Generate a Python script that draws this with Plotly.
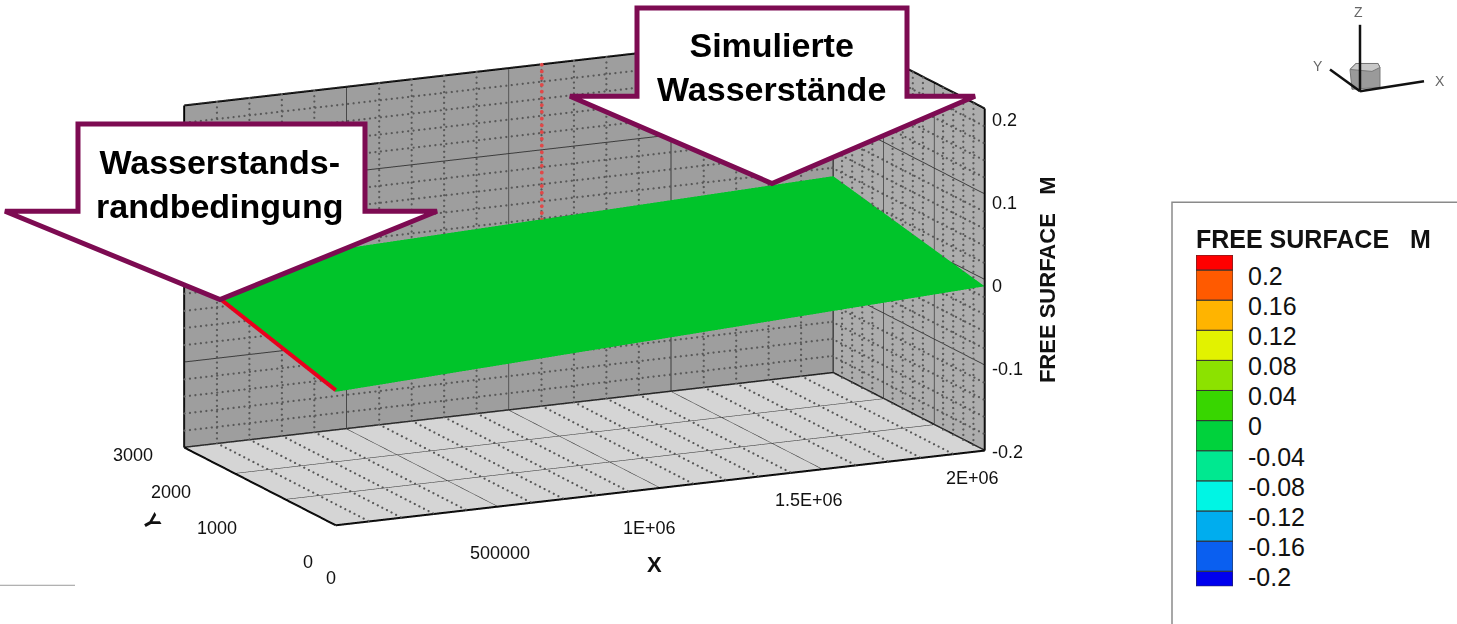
import numpy as np
import plotly.graph_objects as go

W, H = 1457, 624

# ---------------- data ----------------
x_nodes = [0, 2000000]
y_nodes = [0, 3000]
# free surface [m]; rows = y nodes, columns = x nodes
free_surface = [[-0.044, -0.008],
                [0.005, 0.030]]
station_x = 1100000          # red dotted marker on the back wall

x_ticks = [0, 500000, 1000000, 1500000, 2000000]
x_ticklabels = ["0", "500000", "1E+06", "1.5E+06", "2E+06"]
y_ticks = [0, 1000, 2000, 3000]
y_ticklabels = ["0", "1000", "2000", "3000"]
z_ticks = [-0.2, -0.1, 0.0, 0.1, 0.2]
z_ticklabels = ["-0.2", "-0.1", "0", "0.1", "0.2"]

legend_levels = [-0.2, -0.16, -0.12, -0.08, -0.04, 0.0, 0.04, 0.08, 0.12, 0.16, 0.2]
legend_labels = ["-0.2", "-0.16", "-0.12", "-0.08", "-0.04", "0",
                 "0.04", "0.08", "0.12", "0.16", "0.2"]
legend_colors = ["#0000ee", "#0a5ff0", "#00adee", "#00f5e4", "#00e890", "#00d23c",
                 "#38d600", "#8ce200", "#e2f200", "#ffb400", "#ff5a00", "#ff0000"]

# ---------------- helpers ----------------
def px(x):
    return x / W

def py(y):
    return 1 - y / H

def minor_values(ticks, n):
    out = []
    for a, b in zip(ticks[:-1], ticks[1:]):
        step = (b - a) / n
        out += [a + k * step for k in range(1, n)]
    return out

xmin, xmax = x_ticks[0], x_ticks[-1]
ymin, ymax = y_ticks[0], y_ticks[-1]
zmin, zmax = z_ticks[0], z_ticks[-1]

x_minor = minor_values(x_ticks, 5)
y_minor = minor_values(y_ticks, 5)
z_minor = minor_values(z_ticks, 5)

# small inset so the dotted lines sit just in front of the walls
ex = (xmax - xmin) * 0.002
ey = (ymax - ymin) * 0.002
ez = (zmax - zmin) * 0.002

# dotted minor grid: dots along each minor grid line
N_ALONG_X, N_ALONG_Y, N_ALONG_Z = 120, 34, 64
dx_, dy_, dz_ = [], [], []
def dots(p, q, n):
    t = np.linspace(0, 1, n)
    dx_.extend(p[0] + (q[0] - p[0]) * t)
    dy_.extend(p[1] + (q[1] - p[1]) * t)
    dz_.extend(p[2] + (q[2] - p[2]) * t)

# back wall (y = ymax)
for v in x_minor:
    dots((v, ymax - ey, zmin), (v, ymax - ey, zmax), N_ALONG_Z)
for v in z_minor:
    dots((xmin, ymax - ey, v), (xmax, ymax - ey, v), N_ALONG_X)
# right wall (x = xmax)
for v in y_minor:
    dots((xmax - ex, v, zmin), (xmax - ex, v, zmax), N_ALONG_Z)
for v in z_minor:
    dots((xmax - ex, ymin, v), (xmax - ex, ymax, v), N_ALONG_Y)
# floor (z = zmin)
for v in x_minor:
    dots((v, ymin, zmin + ez), (v, ymax, zmin + ez), N_ALONG_Y)

# box outline edges
bx, by, bz = [], [], []
def edge(p, q):
    bx.extend([p[0], q[0], None]); by.extend([p[1], q[1], None]); bz.extend([p[2], q[2], None])
edge((xmin, ymin, zmin), (xmax, ymin, zmin))
edge((xmin, ymin, zmin), (xmin, ymax, zmin))
edge((xmin, ymax, zmin), (xmax, ymax, zmin))
edge((xmax, ymin, zmin), (xmax, ymax, zmin))
edge((xmin, ymax, zmin), (xmin, ymax, zmax))
edge((xmax, ymax, zmin), (xmax, ymax, zmax))
edge((xmax, ymin, zmin), (xmax, ymin, zmax))
edge((xmin, ymax, zmax), (xmax, ymax, zmax))
edge((xmax, ymin, zmax), (xmax, ymax, zmax))

GREEN = "#00c42a"
fs = np.array(free_surface)

fig = go.Figure()

fig.add_trace(go.Surface(
    x=x_nodes, y=y_nodes, z=free_surface,
    colorscale=[[0, GREEN], [1, GREEN]], showscale=False,
    lighting=dict(ambient=1.0, diffuse=0.0, specular=0.0, roughness=1.0, fresnel=0.0),
    hoverinfo="skip"))

fig.add_trace(go.Scatter3d(
    x=dx_, y=dy_, z=dz_, mode="markers",
    marker=dict(color="#585858", size=1.3, line=dict(width=0)),
    hoverinfo="skip", showlegend=False))

fig.add_trace(go.Scatter3d(
    x=bx, y=by, z=bz, mode="lines",
    line=dict(color="#000000", width=4),
    hoverinfo="skip", showlegend=False))

# boundary condition line at x = 0 (red)
fig.add_trace(go.Scatter3d(
    x=[x_nodes[0]] * len(y_nodes), y=y_nodes, z=list(fs[:, 0] + 0.002),
    mode="lines", line=dict(color="#e8001c", width=8),
    hoverinfo="skip", showlegend=False))

# red dotted station marker on back wall
z_station = float(np.interp(station_x, x_nodes, fs[-1, :]))
n_st = 24
fig.add_trace(go.Scatter3d(
    x=[station_x] * n_st, y=[ymax - 2 * ey] * n_st, z=list(np.linspace(z_station, zmax, n_st)),
    mode="markers", marker=dict(color="#e04848", size=2.2, line=dict(width=0)),
    hoverinfo="skip", showlegend=False))

# legend swatch (bars in a small cartesian panel)
edges = [legend_levels[0] - 0.02] + legend_levels + [legend_levels[-1] + 0.02]
fig.add_trace(go.Bar(
    x=[0] * len(legend_colors), base=edges[:-1],
    y=[b - a for a, b in zip(edges[:-1], edges[1:])],
    width=1, marker=dict(color=legend_colors, line=dict(color="#333333", width=1)),
    hoverinfo="skip", showlegend=False, xaxis="x", yaxis="y"))

# ---------------- 3D scene ----------------
tick_font = dict(family="Liberation Sans, Arial, sans-serif", size=18, color="#111111")
title_font = dict(family="Liberation Sans, Arial, sans-serif", size=22, color="#111111")

# label offsets (pixels) for the tick labels of each axis
x_dx = [-5, 2, -11, -14, -12]
x_dy = [-53, -47, -40, -31, -28]
y_dx = [-21, -46, -42, -29]
y_dy = [-37, -29, -19, -8]
z_dy = [-2, -4, -7, -9, -12]

annos3d = []
for v, t, dx, dy in zip(x_ticks, x_ticklabels, x_dx, x_dy):
    annos3d.append(dict(x=v, y=ymin, z=zmin, text=t, showarrow=False,
                        xanchor="center", yanchor="middle", xshift=dx, yshift=dy, font=tick_font))
for v, t, dx, dy in zip(y_ticks, y_ticklabels, y_dx, y_dy):
    annos3d.append(dict(x=xmin, y=v, z=zmin, text=t, showarrow=False,
                        xanchor="right", yanchor="middle", xshift=dx, yshift=dy, font=tick_font))
for v, t, dy in zip(z_ticks, z_ticklabels, z_dy):
    annos3d.append(dict(x=xmax, y=ymin, z=v, text=t, showarrow=False,
                        xanchor="left", yanchor="middle", xshift=5, yshift=dy, font=tick_font))
annos3d.append(dict(x=(xmin + xmax) / 2, y=ymin, z=zmin, text="<b>X</b>", showarrow=False,
                    xshift=-6, yshift=-77, font=title_font))
annos3d.append(dict(x=xmin, y=(ymin + ymax) / 2, z=zmin, text="<b>Y</b>", showarrow=False,
                    textangle=60, xshift=-108, yshift=-36, font=title_font))
annos3d.append(dict(x=xmax, y=ymin, z=(zmin + zmax) / 2, text="<b>FREE SURFACE&nbsp;&nbsp;&nbsp;M</b>",
                    showarrow=False, textangle=-90, xshift=63, yshift=0, font=title_font))

D = 2.0
SCALE = 2.66
eye_dir = (-0.4153, -0.8766, 0.2431)
axis_common = dict(showticklabels=False, title=dict(text=""), showbackground=True,
                   gridcolor="#3c3c3c", gridwidth=2, showline=False, zeroline=False,
                   showspikes=False, ticks="")
LABEL_DROP = 0.008   # legend labels sit a little below the level boundaries
fig.update_layout(
    width=W, height=H, autosize=False,
    margin=dict(l=0, r=0, t=0, b=0),
    paper_bgcolor="white", plot_bgcolor="white",
    showlegend=False, hovermode=False, barmode="overlay",
    scene=dict(
        domain=dict(x=[0, 0.8023], y=[0.1152, 0.9872]),
        xaxis=dict(range=[xmin, xmax], tickvals=x_ticks, backgroundcolor="#adadad", **axis_common),
        yaxis=dict(range=[ymin, ymax], tickvals=y_ticks, backgroundcolor="#9e9e9e", **axis_common),
        zaxis=dict(range=[zmin, zmax], tickvals=z_ticks, backgroundcolor="#d5d5d5", **axis_common),
        aspectmode="manual", aspectratio=dict(x=1 * SCALE, y=0.493 * SCALE, z=0.491 * SCALE),
        camera=dict(eye=dict(x=eye_dir[0] * D, y=eye_dir[1] * D, z=eye_dir[2] * D),
                    up=dict(x=0, y=0, z=1), center=dict(x=0, y=0, z=0),
                    projection=dict(type="orthographic")),
        annotations=annos3d,
    ),
    xaxis=dict(domain=[px(1196), px(1233)], range=[-0.5, 0.5], visible=False, fixedrange=True),
    yaxis=dict(domain=[py(591), py(257)], range=[edges[0], edges[-1]], side="right",
               tickvals=[v - LABEL_DROP for v in legend_levels], ticktext=legend_labels,
               showgrid=False, zeroline=False,
               showline=False, ticks="", ticklabelstandoff=14, fixedrange=True,
               tickfont=dict(family="Liberation Sans, Arial, sans-serif", size=25, color="#111111")),
)

# ---------------- callouts, legend frame, orientation triad ----------------
PURPLE = "#7d0b52"
def path(points):
    s = "M " + " L ".join(f"{px(a):.5f},{py(b):.5f}" for a, b in points) + " Z"
    return s

shapes = []
shapes.append(dict(type="path", xref="paper", yref="paper", layer="above",
                   path=path([(78, 125), (365, 125), (365, 213), (437, 213), (220, 302),
                              (5, 213), (78, 213)]),
                   fillcolor="white", line=dict(color=PURPLE, width=5)))
shapes.append(dict(type="path", xref="paper", yref="paper", layer="above",
                   path=path([(637, 8), (907, 8), (907, 97), (975, 97), (772, 185),
                              (570, 97), (637, 97)]),
                   fillcolor="white", line=dict(color=PURPLE, width=5)))
# legend frame
shapes.append(dict(type="rect", xref="paper", yref="paper", layer="below",
                   x0=px(1172), x1=px(1470), y0=py(640), y1=py(204),
                   fillcolor="white", line=dict(color="#8a8a8a", width=1.5)))
# slide separator line bottom-left
shapes.append(dict(type="line", xref="paper", yref="paper", x0=px(0), x1=px(75),
                   y0=py(590), y1=py(590), line=dict(color="#9a9a9a", width=1)))
# orientation triad
cx, cy = 1360, 92
shapes.append(dict(type="path", xref="paper", yref="paper", layer="above",
                   path=path([(1350, 70), (1356, 64), (1378, 64), (1380, 68), (1380, 88), (1352, 90)]),
                   fillcolor="#9a9a9a", line=dict(color="#777777", width=1)))
shapes.append(dict(type="path", xref="paper", yref="paper", layer="above",
                   path=path([(1350, 70), (1356, 64), (1378, 64), (1380, 68), (1372, 72)]),
                   fillcolor="#c8c8c8", line=dict(color="#777777", width=1)))
for (x1, y1) in [(1360, 25), (1424, 82), (1330, 70)]:
    shapes.append(dict(type="line", xref="paper", yref="paper", layer="above",
                       x0=px(cx), y0=py(cy), x1=px(x1), y1=py(y1),
                       line=dict(color="#111111", width=2.5)))

annos = []
callout_font = dict(family="Liberation Sans, Arial, sans-serif", size=34, color="black")
annos.append(dict(x=px(220), y=py(185), xref="paper", yref="paper", showarrow=False,
                  text="<b>Wasserstands-<br>randbedingung</b>", font=callout_font,
                  xanchor="center", yanchor="middle", align="center"))
annos.append(dict(x=px(771), y=py(68), xref="paper", yref="paper", showarrow=False,
                  text="<b>Simulierte<br>Wasserstände</b>", font=callout_font,
                  xanchor="center", yanchor="middle", align="center"))
annos.append(dict(x=px(1194), y=py(241), xref="paper", yref="paper", showarrow=False,
                  text="<b>FREE SURFACE&nbsp;&nbsp;&nbsp;M</b>", xanchor="left", yanchor="middle",
                  font=dict(family="Liberation Sans, Arial, sans-serif", size=25, color="#111111")))
triad_font = dict(family="Liberation Sans, Arial, sans-serif", size=14, color="#666666")
for t, (x, y) in zip(["Z", "X", "Y"], [(1358, 12), (1440, 82), (1318, 67)]):
    annos.append(dict(x=px(x), y=py(y), xref="paper", yref="paper", showarrow=False,
                      text=t, font=triad_font, xanchor="center", yanchor="middle"))

fig.update_layout(shapes=shapes, annotations=annos)

fig.write_html("out.html", config={"displayModeBar": False},
               post_script="document.body.style.margin='0px';")
